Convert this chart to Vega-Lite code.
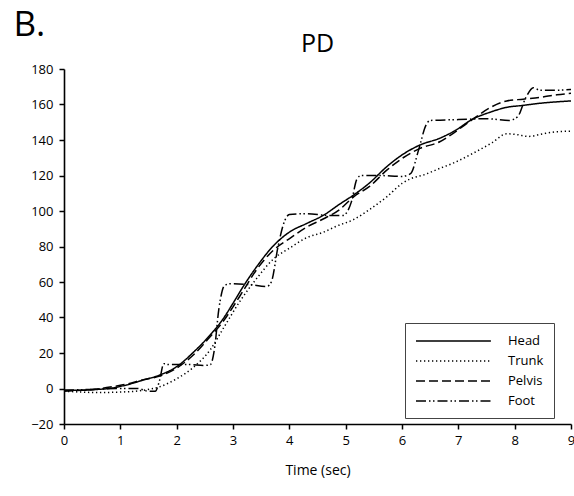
{
  "$schema": "https://vega.github.io/schema/vega-lite/v6.json",
  "width": 507,
  "height": 355,
  "autosize": {"type": "none"},
  "padding": {"left": 64, "top": 69, "right": 3, "bottom": 72},
  "background": "white",
  "title": {"text": "PD", "fontSize": 25, "fontWeight": "normal", "font": "Open Sans", "color": "black", "anchor": "middle", "offset": 0, "dy": 50},
  "config": {
    "view": {"stroke": null},
    "font": "Open Sans",
    "axis": {"grid": false, "domainColor": "black", "tickColor": "black", "domainWidth": 1.6, "tickWidth": 1.5, "tickSize": 5, "labelColor": "black", "labelFontSize": 13, "titleColor": "black", "titleFontWeight": "normal"}
  },
  "data": {"values": [
    {"t": 0, "v": -1, "s": "Head"}, {"t": 0.3, "v": -1, "s": "Head"}, {"t": 0.6, "v": -0.5, "s": "Head"}, {"t": 0.82, "v": 0.1, "s": "Head"}, {"t": 1.11, "v": 2, "s": "Head"}, {"t": 1.41, "v": 4.8, "s": "Head"}, {"t": 1.7, "v": 7.6, "s": "Head"}, {"t": 2.0, "v": 12.3, "s": "Head"}, {"t": 2.3, "v": 20.5, "s": "Head"}, {"t": 2.59, "v": 30, "s": "Head"}, {"t": 2.83, "v": 39.5, "s": "Head"}, {"t": 3.0, "v": 48, "s": "Head"}, {"t": 3.18, "v": 57.4, "s": "Head"}, {"t": 3.42, "v": 68.6, "s": "Head"}, {"t": 3.72, "v": 80.5, "s": "Head"}, {"t": 4.01, "v": 88.3, "s": "Head"}, {"t": 4.31, "v": 93, "s": "Head"}, {"t": 4.6, "v": 97.5, "s": "Head"}, {"t": 4.9, "v": 104, "s": "Head"}, {"t": 5.14, "v": 109, "s": "Head"}, {"t": 5.43, "v": 116, "s": "Head"}, {"t": 5.73, "v": 125, "s": "Head"}, {"t": 6.02, "v": 132, "s": "Head"}, {"t": 6.32, "v": 137.2, "s": "Head"}, {"t": 6.67, "v": 141, "s": "Head"}, {"t": 6.91, "v": 144.7, "s": "Head"}, {"t": 7.27, "v": 152, "s": "Head"}, {"t": 7.55, "v": 155.5, "s": "Head"}, {"t": 7.86, "v": 158.4, "s": "Head"}, {"t": 8.15, "v": 159.5, "s": "Head"}, {"t": 8.45, "v": 160.7, "s": "Head"}, {"t": 8.75, "v": 161.5, "s": "Head"}, {"t": 9.0, "v": 162, "s": "Head"},
    {"t": 0, "v": -1.5, "s": "Trunk"}, {"t": 0.3, "v": -2, "s": "Trunk"}, {"t": 0.6, "v": -2.3, "s": "Trunk"}, {"t": 1.0, "v": -2, "s": "Trunk"}, {"t": 1.41, "v": -1, "s": "Trunk"}, {"t": 1.7, "v": 1, "s": "Trunk"}, {"t": 2.0, "v": 5.5, "s": "Trunk"}, {"t": 2.3, "v": 12, "s": "Trunk"}, {"t": 2.6, "v": 22, "s": "Trunk"}, {"t": 2.83, "v": 34, "s": "Trunk"}, {"t": 3.12, "v": 49, "s": "Trunk"}, {"t": 3.42, "v": 62, "s": "Trunk"}, {"t": 3.72, "v": 73, "s": "Trunk"}, {"t": 4.0, "v": 79, "s": "Trunk"}, {"t": 4.31, "v": 85, "s": "Trunk"}, {"t": 4.6, "v": 88, "s": "Trunk"}, {"t": 4.84, "v": 91.5, "s": "Trunk"}, {"t": 5.13, "v": 95, "s": "Trunk"}, {"t": 5.43, "v": 101, "s": "Trunk"}, {"t": 5.73, "v": 108, "s": "Trunk"}, {"t": 6.0, "v": 115.5, "s": "Trunk"}, {"t": 6.14, "v": 118, "s": "Trunk"}, {"t": 6.4, "v": 120.5, "s": "Trunk"}, {"t": 6.67, "v": 124, "s": "Trunk"}, {"t": 6.91, "v": 127, "s": "Trunk"}, {"t": 7.26, "v": 132.5, "s": "Trunk"}, {"t": 7.6, "v": 138.5, "s": "Trunk"}, {"t": 7.86, "v": 143.5, "s": "Trunk"}, {"t": 8.05, "v": 143, "s": "Trunk"}, {"t": 8.24, "v": 142, "s": "Trunk"}, {"t": 8.5, "v": 143.5, "s": "Trunk"}, {"t": 8.7, "v": 144.5, "s": "Trunk"}, {"t": 9.0, "v": 145, "s": "Trunk"},
    {"t": 0, "v": -1.5, "s": "Pelvis"}, {"t": 0.5, "v": -0.5, "s": "Pelvis"}, {"t": 0.82, "v": 0.8, "s": "Pelvis"}, {"t": 1.11, "v": 2.5, "s": "Pelvis"}, {"t": 1.41, "v": 5, "s": "Pelvis"}, {"t": 1.7, "v": 7, "s": "Pelvis"}, {"t": 2.0, "v": 11.5, "s": "Pelvis"}, {"t": 2.3, "v": 19, "s": "Pelvis"}, {"t": 2.59, "v": 29, "s": "Pelvis"}, {"t": 2.83, "v": 38, "s": "Pelvis"}, {"t": 3.0, "v": 46, "s": "Pelvis"}, {"t": 3.18, "v": 55, "s": "Pelvis"}, {"t": 3.42, "v": 67, "s": "Pelvis"}, {"t": 3.72, "v": 78, "s": "Pelvis"}, {"t": 4.01, "v": 84.6, "s": "Pelvis"}, {"t": 4.31, "v": 91, "s": "Pelvis"}, {"t": 4.6, "v": 95.5, "s": "Pelvis"}, {"t": 4.9, "v": 101, "s": "Pelvis"}, {"t": 5.14, "v": 108, "s": "Pelvis"}, {"t": 5.43, "v": 114, "s": "Pelvis"}, {"t": 5.73, "v": 123, "s": "Pelvis"}, {"t": 6.02, "v": 130, "s": "Pelvis"}, {"t": 6.32, "v": 135.3, "s": "Pelvis"}, {"t": 6.67, "v": 139, "s": "Pelvis"}, {"t": 6.91, "v": 143.8, "s": "Pelvis"}, {"t": 7.27, "v": 152, "s": "Pelvis"}, {"t": 7.55, "v": 158, "s": "Pelvis"}, {"t": 7.86, "v": 162, "s": "Pelvis"}, {"t": 8.15, "v": 163, "s": "Pelvis"}, {"t": 8.45, "v": 164, "s": "Pelvis"}, {"t": 8.75, "v": 165.5, "s": "Pelvis"}, {"t": 9.0, "v": 166.3, "s": "Pelvis"},
    {"t": 0, "v": -1, "s": "Foot"}, {"t": 0.5, "v": -0.5, "s": "Foot"}, {"t": 1.0, "v": 0, "s": "Foot"}, {"t": 1.3, "v": 0, "s": "Foot"}, {"t": 1.5, "v": -1.5, "s": "Foot"}, {"t": 1.62, "v": -1.5, "s": "Foot"}, {"t": 1.7, "v": 5, "s": "Foot"}, {"t": 1.77, "v": 14, "s": "Foot"}, {"t": 1.85, "v": 13.5, "s": "Foot"}, {"t": 2.2, "v": 13.5, "s": "Foot"}, {"t": 2.5, "v": 13, "s": "Foot"}, {"t": 2.6, "v": 13.5, "s": "Foot"}, {"t": 2.67, "v": 22, "s": "Foot"}, {"t": 2.75, "v": 45, "s": "Foot"}, {"t": 2.85, "v": 58, "s": "Foot"}, {"t": 2.95, "v": 59, "s": "Foot"}, {"t": 3.3, "v": 58.5, "s": "Foot"}, {"t": 3.6, "v": 57.5, "s": "Foot"}, {"t": 3.68, "v": 60, "s": "Foot"}, {"t": 3.8, "v": 80, "s": "Foot"}, {"t": 3.9, "v": 93, "s": "Foot"}, {"t": 4.0, "v": 98, "s": "Foot"}, {"t": 4.3, "v": 98.5, "s": "Foot"}, {"t": 4.7, "v": 97.5, "s": "Foot"}, {"t": 4.95, "v": 97.5, "s": "Foot"}, {"t": 5.1, "v": 105, "s": "Foot"}, {"t": 5.2, "v": 118, "s": "Foot"}, {"t": 5.28, "v": 120, "s": "Foot"}, {"t": 5.6, "v": 120, "s": "Foot"}, {"t": 6.0, "v": 119.5, "s": "Foot"}, {"t": 6.15, "v": 121, "s": "Foot"}, {"t": 6.3, "v": 135, "s": "Foot"}, {"t": 6.42, "v": 148, "s": "Foot"}, {"t": 6.5, "v": 151, "s": "Foot"}, {"t": 7.0, "v": 151.5, "s": "Foot"}, {"t": 7.5, "v": 152, "s": "Foot"}, {"t": 7.9, "v": 151, "s": "Foot"}, {"t": 8.05, "v": 153, "s": "Foot"}, {"t": 8.2, "v": 164, "s": "Foot"}, {"t": 8.33, "v": 169.5, "s": "Foot"}, {"t": 8.45, "v": 168, "s": "Foot"}, {"t": 8.7, "v": 168, "s": "Foot"}, {"t": 9.0, "v": 168.5, "s": "Foot"}
  ]},
  "mark": {"type": "line", "color": "black", "strokeWidth": 1.5, "interpolate": "monotone", "clip": false},
  "encoding": {
    "x": {"field": "t", "type": "quantitative", "scale": {"domain": [0, 9], "nice": false},
      "axis": {"values": [0, 1, 2, 3, 4, 5, 6, 7, 8, 9], "title": "Time (sec)", "titleFontSize": 14, "titlePadding": 16, "labelPadding": 5, "labelFlush": false}},
    "y": {"field": "v", "type": "quantitative", "scale": {"domain": [-20, 180], "nice": false, "zero": false},
      "axis": {"values": [-20, 0, 20, 40, 60, 80, 100, 120, 140, 160, 180], "labelPadding": 6, "title": "B.", "titleAngle": 0, "titleAlign": "left", "titleBaseline": "alphabetic", "titleX": -51, "titleY": -34, "titleFontSize": 35}},
    "strokeDash": {"field": "s", "type": "nominal",
      "scale": {"domain": ["Head", "Trunk", "Pelvis", "Foot"], "range": [[1, 0], [1.3, 2.7], [9, 4], [10, 3, 1.5, 2.5, 1.5, 3]]},
      "legend": {"title": null, "orient": "none", "legendX": 341, "legendY": 254, "strokeColor": "#444", "fillColor": "white", "padding": 10, "symbolType": "M-1,0H9.7", "symbolSize": 196, "symbolStrokeWidth": 1.5, "symbolStrokeColor": "black", "labelFontSize": 13, "labelOffset": 77, "rowPadding": 5, "labelColor": "black"}},
    "detail": {"field": "s"}
  }
}
